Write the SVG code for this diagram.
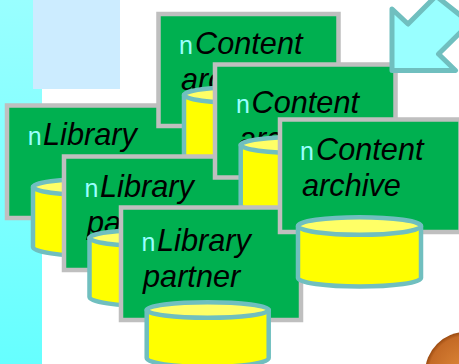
<svg xmlns="http://www.w3.org/2000/svg" width="459" height="364" viewBox="0 0 459 364">
<style>
.box{fill:#00B050;stroke:#BFBFBF;stroke-width:4.5;stroke-linejoin:miter}
.cyl{fill:#FFFF00;stroke:#70BFBF;stroke-width:4.5;stroke-linejoin:round}
.lid{fill:#FFFF66;stroke:#70BFBF;stroke-width:4.5}
text{font-family:"Liberation Sans",Arial,sans-serif}
.t{font-size:30.7px;font-style:italic;fill:#000}
.b{font-size:25px;fill:#99FFFF}
</style>
<defs>
<linearGradient id="strip" x1="0" y1="0" x2="0" y2="1"><stop offset="0" stop-color="#99FFFF"/><stop offset="1" stop-color="#66FFFF"/></linearGradient>
<radialGradient id="sg" cx="0.5" cy="0.5" r="0.5"><stop offset="0" stop-color="#E08A3A"/><stop offset="0.9" stop-color="#C46A26"/><stop offset="1" stop-color="#9A4A10"/></radialGradient>
</defs>
<rect x="0" y="0" width="42" height="364" fill="url(#strip)"/>
<rect x="33" y="0" width="87" height="89" fill="#CCECFF"/>
<g id="sphere"><circle cx="466" cy="373" r="41" fill="url(#sg)"/></g>
<g id="connectors"/>
<g id="library1"><rect class="box" x="7" y="105.500" width="181" height="112.500"/><text class="b" x="27.700" y="145">n</text><text class="t" x="43" y="145.300">Library</text><path class="cyl" d="M33 187V247A61 9 0 0 0 155 247V187Z"/><ellipse class="lid" cx="94" cy="187" rx="61" ry="8"/></g>
<g id="content1"><rect class="box" x="158.500" y="14" width="180" height="112"/><text class="b" x="179" y="54">n</text><text class="t" x="195" y="54">Content</text><text class="t" x="181" y="90">archive</text><path class="cyl" d="M184 95V155A61 9 0 0 0 306 155V95Z"/><ellipse class="lid" cx="245" cy="95" rx="61" ry="8"/></g>
<g id="library2"><rect class="box" x="64" y="156.500" width="181" height="113.500"/><text class="b" x="84.500" y="197">n</text><text class="t" x="100" y="197">Library</text><text class="t" x="87" y="233">partner</text><path class="cyl" d="M89.500 238V297A61 9 0 0 0 211.500 297V238Z"/><ellipse class="lid" cx="150.500" cy="238" rx="61" ry="8"/></g>
<g id="content2"><rect class="box" x="215" y="64.500" width="180.500" height="113"/><text class="b" x="236" y="113">n</text><text class="t" x="251.500" y="113.300">Content</text><text class="t" x="239" y="149">archive</text><path class="cyl" d="M240.700 145V205A61 9 0 0 0 362.700 205V145Z"/><ellipse class="lid" cx="301.700" cy="145" rx="61" ry="8"/></g>
<g id="library3"><rect class="box" x="121" y="207.500" width="180" height="112.500"/><text class="b" x="141.500" y="251">n</text><text class="t" x="157" y="251.300">Library</text><text class="t" x="143" y="287">partner</text><path class="cyl" d="M146.700 310V358A61 9 0 0 0 268.700 358V310Z"/><ellipse class="lid" cx="207.700" cy="310" rx="61" ry="7.700"/></g>
<g id="content3"><rect class="box" x="280" y="119.500" width="180.500" height="112.500"/><text class="b" x="300" y="160">n</text><text class="t" x="316" y="160">Content</text><text class="t" x="302" y="196">archive</text><path class="cyl" d="M298 226V278A61.500 8.500 0 0 0 421 278V226Z"/><ellipse class="lid" cx="359.500" cy="226" rx="61.500" ry="8.700"/></g>
<g id="arrow"><path d="M392 9L408 24L436 -4L470 23L438.500 54L455.500 70.500L392 70.500Z" fill="#99FFFF" stroke="#70BFBF" stroke-width="5" stroke-linejoin="round"/></g>
</svg>
